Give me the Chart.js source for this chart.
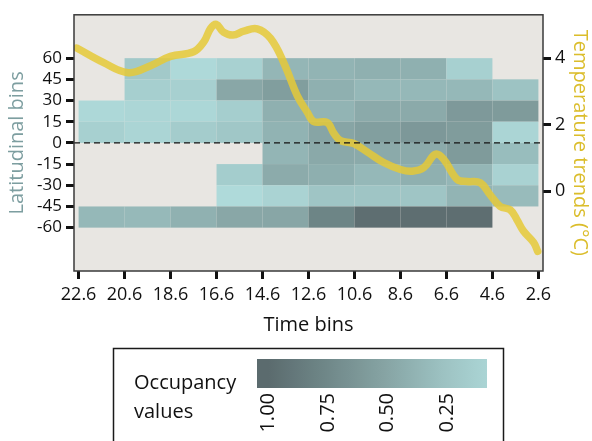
<!DOCTYPE html>
<html><head><meta charset="utf-8">
<script src="https://cdn.jsdelivr.net/npm/chart.js@4/dist/chart.umd.min.js"></script>
<style>html,body{margin:0;padding:0;background:#fff;}canvas{display:block;}</style>
</head><body>
<canvas id="c" width="592" height="441"></canvas>
<script>
// ---- data ----
const timeTicks = [22.6, 20.6, 18.6, 16.6, 14.6, 12.6, 10.6, 8.6, 6.6, 4.6, 2.6];
const latTicks = [-60, -45, -30, -15, 0, 15, 30, 45, 60];
const tempTicks = [0, 2, 4];
const legendTicks = [1.00, 0.75, 0.50, 0.25];

// occupancy values per time column; rows from top: 60..45, 45..30, 30..15, 15..0, 0..-15, -15..-30, -30..-45, -45..-60
const occ_22_20 = [null, null, 0.04, 0.12, null, null, null, 0.35];
const occ_20_18 = [0.20, 0.14, 0.06, 0.07, null, null, null, 0.34];
const occ_18_16 = [0.03, 0.13, 0.05, 0.17, null, null, null, 0.40];
const occ_16_14 = [0.11, 0.48, 0.15, 0.22, null, 0.16, 0.02, 0.48];
const occ_14_12 = [0.36, 0.56, 0.41, 0.39, 0.37, 0.45, 0.09, 0.49];
const occ_12_10 = [0.38, 0.41, 0.38, 0.50, 0.47, 0.42, 0.24, 0.78];
const occ_10_8  = [0.41, 0.35, 0.46, 0.55, 0.46, 0.35, 0.24, 0.97];
const occ_8_6   = [0.41, 0.35, 0.46, 0.61, 0.46, 0.41, 0.24, 0.97];
const occ_6_4   = [0.13, 0.35, 0.60, 0.58, 0.59, 0.36, 0.38, 0.97];
const occ_4_2   = [null, 0.26, 0.59, 0.07, 0.31, 0.10, 0.32, null];
const occupancy = [occ_22_20, occ_20_18, occ_18_16, occ_16_14, occ_14_12, occ_12_10, occ_10_8, occ_8_6, occ_6_4, occ_4_2];

// temperature trend curve
const tempTime = [22.68, 21.51, 20.43, 19.47, 18.60, 17.60, 17.15, 16.86, 16.61, 16.30, 15.89, 15.41, 14.83, 14.25, 13.67, 13.09, 12.66, 12.37, 11.79, 11.50, 11.21, 10.63, 10.05, 9.33, 8.60, 8.09, 7.58, 7.08, 6.72, 6.13, 5.70, 5.13, 4.69, 4.26, 3.83, 3.54, 3.25, 2.81, 2.63];
const tempValue = [4.30, 3.86, 3.56, 3.77, 4.05, 4.19, 4.49, 4.89, 5.01, 4.78, 4.69, 4.81, 4.88, 4.59, 3.85, 2.87, 2.38, 2.09, 2.06, 1.74, 1.52, 1.43, 1.18, 0.86, 0.65, 0.60, 0.71, 1.11, 0.96, 0.35, 0.29, 0.25, -0.12, -0.46, -0.56, -0.85, -1.20, -1.54, -1.81];

// ---- styling ----
const FONT = '"Open Sans", "Noto Sans", sans-serif';
const cStops = [[176,220,220],[158,196,196],[135,165,165],[112,136,137],[91,107,110]]; // values 0,.25,.5,.75,1
function cmap(v){
  v = Math.max(0, Math.min(1, v));
  const s = v*4, i = Math.min(3, Math.floor(s)), t = s - i;
  const a = cStops[i], b = cStops[i+1];
  const c = a.map((q,k)=>Math.round(q + (b[k]-q)*t));
  return `rgb(${c[0]},${c[1]},${c[2]})`;
}

const heatPlugin = {
  id: 'heat',
  beforeDatasetsDraw(chart){
    const {ctx, chartArea:a, scales:{x, y}} = chart;
    ctx.save();
    ctx.fillStyle = '#e8e6e2';
    ctx.fillRect(a.left, a.top, a.width, a.height);
    occupancy.forEach((col, ci) => {
      const x0 = x.getPixelForValue(timeTicks[ci]);
      const x1 = x.getPixelForValue(timeTicks[ci+1]);
      col.forEach((v, ri) => {
        if (v == null) return;
        const y0 = y.getPixelForValue(latTicks[latTicks.length-1-ri]);
        const y1 = y.getPixelForValue(latTicks[latTicks.length-2-ri]);
        ctx.fillStyle = cmap(v);
        ctx.fillRect(x0, y0, x1-x0, y1-y0);
      });
    });
    ctx.restore();
  },
  afterDatasetsDraw(chart){
    const {ctx, chartArea:a, scales:{y}} = chart;
    const yz = y.getPixelForValue(0);
    ctx.save();
    ctx.strokeStyle = '#111'; ctx.lineWidth = 1.3; ctx.setLineDash([6,4]);
    ctx.beginPath(); ctx.moveTo(a.left, yz); ctx.lineTo(a.right, yz); ctx.stroke();
    ctx.restore();
  },
  afterDraw(chart){
    const {ctx, chartArea:a} = chart;
    ctx.save();
    ctx.strokeStyle = '#3a3a3a'; ctx.lineWidth = 1.5;
    ctx.strokeRect(a.left, a.top, a.width, a.height);
    // legend
    ctx.strokeStyle = '#1a1a1a'; ctx.lineWidth = 1.5;
    ctx.strokeRect(113.5, 348.5, 390, 120);
    ctx.fillStyle = '#111';
    ctx.font = '20px ' + FONT;
    ctx.textBaseline = 'middle'; ctx.textAlign = 'left';
    ctx.fillText('Occupancy', 134, 383);
    ctx.fillText('values', 134, 412);
    const bx0 = 257, bx1 = 487, by0 = 359, by1 = 388;
    const lx = v => 268.3 + (1 - v) * 238;
    const g = ctx.createLinearGradient(bx0, 0, bx1, 0);
    for (let k = 0; k <= 20; k++) {
      const xx = bx0 + k * (bx1 - bx0) / 20;
      g.addColorStop(k/20, cmap(1 - (xx - 268.3) / 238));
    }
    ctx.fillStyle = g;
    ctx.fillRect(bx0, by0, bx1-bx0, by1-by0);
    ctx.fillStyle = '#111';
    ctx.font = '20px ' + FONT;
    legendTicks.forEach(v => {
      ctx.save();
      ctx.translate(lx(v), 393);
      ctx.rotate(-Math.PI/2);
      ctx.textAlign = 'right'; ctx.textBaseline = 'middle';
      ctx.fillText(v.toFixed(2), 0, 0);
      ctx.restore();
    });
    ctx.restore();
  }
};

const tickGrid = {drawOnChartArea:false, drawTicks:true, tickLength:8, tickWidth:3, tickColor:'#111'};

new Chart(document.getElementById('c'), {
  type: 'line',
  data: {
    datasets: [{
      data: tempTime.map((t,i)=>({x:t, y:tempValue[i]})),
      xAxisID: 'x', yAxisID: 'y2',
      borderColor: 'rgba(229,201,55,0.85)',
      borderWidth: 7.5,
      pointRadius: 0,
      tension: 0.4,
      fill: false,
      borderCapStyle: 'round',
      borderJoinStyle: 'round'
    }]
  },
  options: {
    responsive: false, animation: false, events: [],
    layout: {padding: {top: 9, bottom: 100, left: 0, right: 0}},
    plugins: {legend: {display: false}, tooltip: {enabled: false}},
    scales: {
      x: {
        type: 'linear', position: 'bottom', reverse: true, min: 2.4, max: 22.8,
        afterBuildTicks: s => { s.ticks = timeTicks.map(v => ({value: v})); },
        afterFit: s => { s.height = 70; },
        ticks: {autoSkip: false, maxRotation: 0, padding: 5, color: '#111', font: {family: FONT, size: 18}, callback: v => Number(v).toFixed(1)},
        grid: tickGrid, border: {display: false},
        title: {display: true, text: 'Time bins', color: '#111', font: {family: FONT, size: 20}, padding: {top: 0, bottom: 4}}
      },
      y: {
        type: 'linear', position: 'left', min: -90.7, max: 90.7,
        afterBuildTicks: s => { s.ticks = latTicks.map(v => ({value: v})); },
        afterFit: s => { s.width = 74; },
        ticks: {autoSkip: false, padding: 4, color: '#111', font: {family: FONT, size: 17}, callback: v => String(v)},
        grid: tickGrid, border: {display: false},
        title: {display: true, text: 'Latitudinal bins', color: '#7d9ea0', font: {family: FONT, size: 20}, padding: {top: 5, bottom: 0}}
      },
      y2: {
        type: 'linear', position: 'right', min: -2.4, max: 5.3,
        afterBuildTicks: s => { s.ticks = tempTicks.map(v => ({value: v})); },
        afterFit: s => { s.width = 49; },
        ticks: {autoSkip: false, padding: 4, color: '#111', font: {family: FONT, size: 18}, callback: v => String(v)},
        grid: tickGrid, border: {display: false},
        title: {display: true, text: 'Temperature trends (°C)', color: '#dbbd2b', font: {family: FONT, size: 20}, padding: {top: 0, bottom: 0}}
      }
    }
  },
  plugins: [heatPlugin]
});
</script>
</body></html>
